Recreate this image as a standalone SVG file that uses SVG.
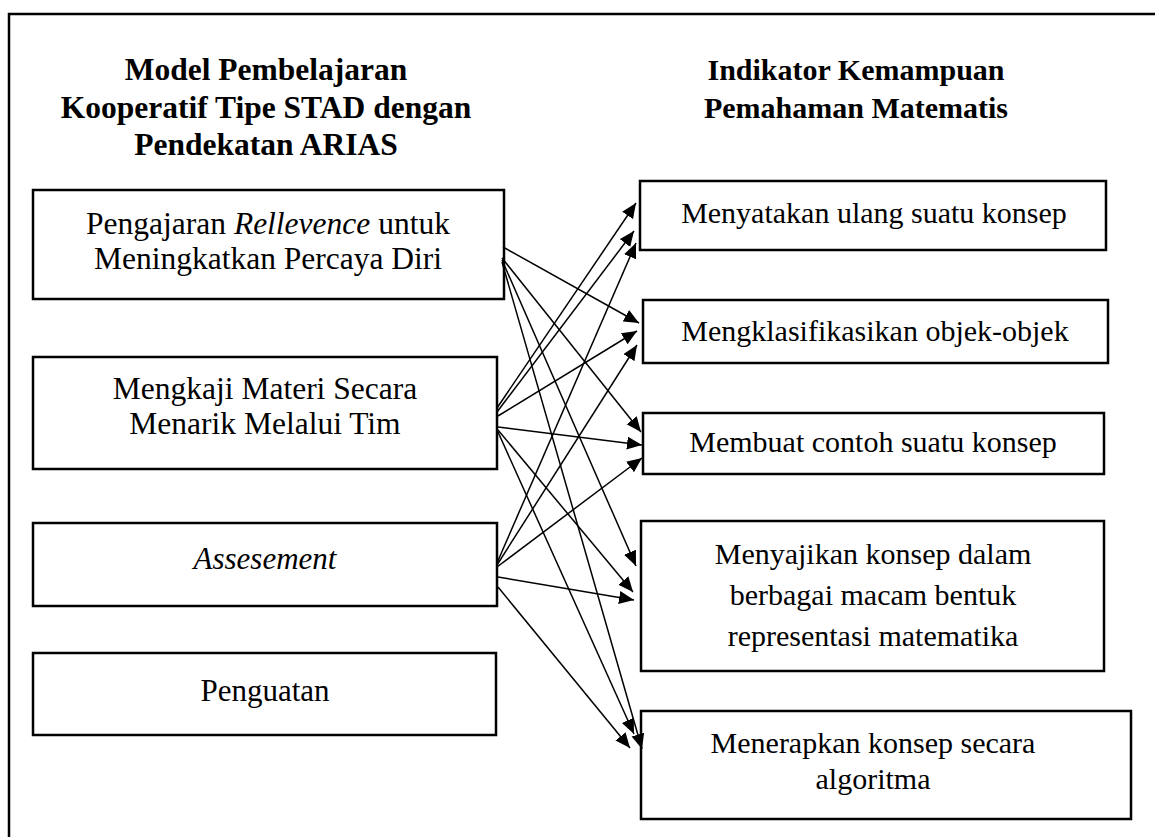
<svg xmlns="http://www.w3.org/2000/svg" width="1155" height="837" viewBox="0 0 1155 837">
<style>
.frame{fill:none;stroke:#000;stroke-width:2.5}
.box{fill:none;stroke:#000;stroke-width:2.5}
.t{font-family:"Liberation Serif","Times New Roman",serif;font-size:30px;fill:#000;text-anchor:middle}
.b{font-size:31.5px}
.h{font-weight:bold;font-size:31.5px}
.hr{font-weight:bold;font-size:30px}
.i{font-style:italic}
.c line{stroke:#000;stroke-width:1.5;marker-end:url(#ah)}
</style>
<defs>
<marker id="ah" markerUnits="userSpaceOnUse" markerWidth="16" markerHeight="14" refX="15" refY="6.5" orient="auto">
<path d="M0,0 L15,6.5 L0,13 Z" fill="#000"/>
</marker>
</defs>
<rect width="1155" height="837" fill="#fff"/>
<rect class="frame" x="9" y="14" width="1160" height="840"/>
<g id="title-left">
<text class="t h" x="266" y="80">Model Pembelajaran</text>
<text class="t h" x="266" y="118">Kooperatif Tipe STAD dengan</text>
<text class="t h" x="266" y="155">Pendekatan ARIAS</text>
</g>
<g id="title-right">
<text class="t hr" x="856" y="80">Indikator Kemampuan</text>
<text class="t hr" x="856" y="118">Pemahaman Matematis</text>
</g>
<g class="c" id="connectors">
<line x1="503" y1="247" x2="639" y2="323"/>
<line x1="502" y1="258" x2="641" y2="432"/>
<line x1="502" y1="260" x2="636" y2="566"/>
<line x1="502" y1="262" x2="642" y2="749"/>
<line x1="497" y1="408" x2="636" y2="203"/>
<line x1="497" y1="412" x2="634" y2="231"/>
<line x1="498" y1="416" x2="637" y2="331"/>
<line x1="498" y1="427" x2="642" y2="445"/>
<line x1="498" y1="430" x2="633" y2="592"/>
<line x1="498" y1="432" x2="634" y2="734"/>
<line x1="497" y1="563" x2="636" y2="243"/>
<line x1="497" y1="565" x2="637" y2="345"/>
<line x1="497" y1="567" x2="642" y2="458"/>
<line x1="498" y1="577" x2="634" y2="600"/>
<line x1="498" y1="587" x2="630" y2="748"/>
</g>
<g id="L1">
<rect class="box" x="33" y="190" width="471" height="109"/>
<text class="t b" x="268" y="234">Pengajaran <tspan class="i">Rellevence</tspan> untuk</text>
<text class="t b" x="268" y="269">Meningkatkan Percaya Diri</text>
</g>
<g id="L2">
<rect class="box" x="33" y="357" width="464" height="112"/>
<text class="t b" x="265" y="399">Mengkaji Materi Secara</text>
<text class="t b" x="265" y="434">Menarik Melalui Tim</text>
</g>
<g id="L3">
<rect class="box" x="33" y="523" width="464" height="83"/>
<text class="t i" x="265" y="569" style="font-size:31px">Assesement</text>
</g>
<g id="L4">
<rect class="box" x="33" y="653" width="463" height="82"/>
<text class="t" x="265" y="701" style="font-size:31px">Penguatan</text>
</g>
<g id="R1">
<rect class="box" x="640" y="181" width="466" height="69"/>
<text class="t" x="874" y="223">Menyatakan ulang suatu konsep</text>
</g>
<g id="R2">
<rect class="box" x="643" y="300" width="465" height="63"/>
<text class="t" x="875" y="341">Mengklasifikasikan objek-objek</text>
</g>
<g id="R3">
<rect class="box" x="643" y="413" width="461" height="61"/>
<text class="t" x="873" y="452">Membuat contoh suatu konsep</text>
</g>
<g id="R4">
<rect class="box" x="641" y="521" width="463" height="150"/>
<text class="t" x="873" y="564">Menyajikan konsep dalam</text>
<text class="t" x="873" y="605">berbagai macam bentuk</text>
<text class="t" x="873" y="646">representasi matematika</text>
</g>
<g id="R5">
<rect class="box" x="641" y="711" width="490" height="108"/>
<text class="t" x="873" y="753">Menerapkan konsep secara</text>
<text class="t" x="873" y="789">algoritma</text>
</g>
</svg>
